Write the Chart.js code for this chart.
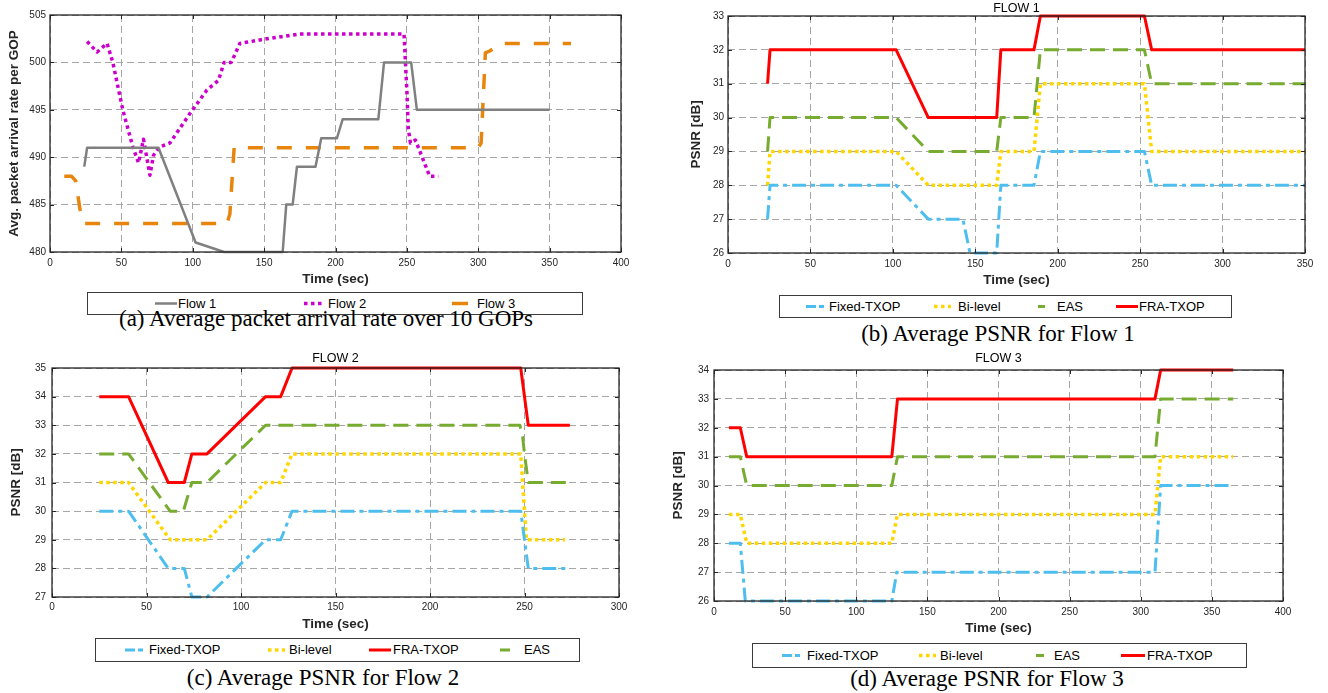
<!DOCTYPE html>
<html lang="en">
<head>
<meta charset="UTF-8">
<title>Packet arrival rate and PSNR per flow</title>
<script src="https://cdn.jsdelivr.net/npm/chart.js"></script>
<style>
  body { margin: 0; background: #fff; }
  #page { position: relative; width: 1328px; height: 693px; overflow: hidden; font-family: "Liberation Sans", Arial, sans-serif; }
  canvas.panel { position: absolute; }
  .legend { position: absolute; border: 1px solid #3c3c3c; background: #fff; box-sizing: border-box; font-size: 13px; color: #000; }
  .legend span { position: absolute; top: 0; white-space: nowrap; }
  .legend svg { position: absolute; top: 0; }
  .caption { position: absolute; width: 600px; text-align: center; font-family: "Liberation Serif", "Times New Roman", serif; font-size: 23px; line-height: 1; color: #000; white-space: nowrap; }
</style>
</head>
<body>
<div id="page">
  <canvas id="chartA" class="panel" width="645" height="292" style="left:0;top:0"></canvas>
  <canvas id="chartB" class="panel" width="658" height="292" style="left:670px;top:0"></canvas>
  <canvas id="chartC" class="panel" width="640" height="288" style="left:0;top:348px"></canvas>
  <canvas id="chartD" class="panel" width="663" height="292" style="left:665px;top:348px"></canvas>

  <div id="legA" class="legend" style="left:87px;top:292px;width:496px;height:23px"></div>
  <div id="legB" class="legend" style="left:779px;top:295px;width:453px;height:23px"></div>
  <div id="legC" class="legend" style="left:95px;top:638px;width:485px;height:24px"></div>
  <div id="legD" class="legend" style="left:752px;top:643px;width:495px;height:25px"></div>

  <div class="caption" style="left:26px;top:307.4px">(a) Average packet arrival rate over 10 GOPs</div>
  <div class="caption" style="left:698px;top:322.4px">(b) Average PSNR for Flow 1</div>
  <div class="caption" style="left:23px;top:665.7px">(c) Average PSNR for Flow 2</div>
  <div class="caption" style="left:687px;top:667.4px">(d) Average PSNR for Flow 3</div>
</div>
<script>
// (a) packet arrival rate
const aFlow1Time = [24, 26, 76, 102, 122, 163, 165.5, 170, 173, 186, 190, 201, 205, 230, 234, 253, 257, 350];
const aFlow1Rate = [489, 491, 491, 481, 480, 480, 485, 485, 489, 489, 492, 492, 494, 494, 500, 500, 495, 495];
const aFlow2Time = [26, 33, 40, 44, 51, 58, 62, 65.5, 70, 72.5, 77, 84, 98, 110, 118, 122, 127, 133, 152, 175, 248, 250, 251, 252.5, 256, 266, 272];
const aFlow2Rate = [502.2, 501.1, 502, 500, 495, 491.1, 489.4, 491.9, 488.1, 490.2, 491.1, 491.5, 494.6, 497.1, 498.1, 500, 500, 502, 502.5, 503, 503, 497, 493, 491.5, 491.8, 488, 488];
const aFlow3Time = [10, 15, 18, 21, 24, 124, 126, 129, 300, 302, 305, 308, 312, 317, 365];
const aFlow3Rate = [488, 488, 487.5, 484.5, 483, 483, 484, 491, 491, 491.5, 501, 501.2, 501.6, 502, 502];

// (b) PSNR, flow 1
const bTime = [24, 25.5, 102, 121.5, 163, 165.5, 185.6, 189.5, 252.6, 257, 350];
const bFra = [31, 32, 32, 30, 30, 32, 32, 33, 33, 32, 32];
const bEas = [29, 30, 30, 29, 29, 30, 30, 32, 32, 31, 31];
const bBi = [28, 29, 29, 28, 28, 29, 29, 31, 31, 29, 29];
const bFixedTime = [24, 25.5, 102, 121.5, 142.5, 146.8, 163, 165.5, 185.6, 189.5, 252.6, 257, 350];
const bFixed = [27, 28, 28, 27, 27, 26, 26, 28, 28, 29, 29, 28, 28];

// (c) PSNR, flow 2
const cFraTime = [25, 40.5, 61.5, 70, 74, 82, 113, 121, 127, 248, 252, 274];
const cFra = [34, 34, 31, 31, 32, 32, 34, 34, 35, 35, 33, 33];
const cEasTime = [25, 40.5, 62.5, 69.5, 74, 82, 113, 247.6, 249, 250, 252, 274];
const cEas = [32, 32, 30, 30, 31, 31, 33, 33, 32.6, 32, 31, 31];
const cBiTime = [25, 40.5, 62.5, 82, 113, 121, 127, 248, 251, 271.5];
const cBi = [31, 31, 29, 29, 31, 31, 32, 32, 29, 29];
const cFixedTime = [25, 40.5, 61.5, 70, 74, 82, 113, 121, 127, 248, 252, 274];
const cFixed = [30, 30, 28, 28, 27, 27, 29, 29, 30, 30, 28, 28];

// (d) PSNR, flow 3
const dTime = [10.5, 18.5, 23, 125, 129, 310, 314, 365];
const dFra = [32, 32, 31, 31, 33, 33, 34, 34];
const dEas = [31, 31, 30, 30, 31, 31, 33, 33];
const dBi = [29, 29, 28, 28, 29, 29, 31, 31];
const dFixedTime = [10.5, 18.5, 22, 125, 128.5, 310, 314, 365];
const dFixed = [28, 28, 26, 26, 27, 27, 30, 30];

const colors = {
  flow1: '#808080', flow2: '#cc00cc', flow3: '#e8850c',
  fixed: '#4dbeee', bi: '#ffd700', eas: '#77ac30', fra: '#ff0000'
};
const styles = {
  solid: [], dotted: [3.5, 3.5], dashed: [15, 14],
  dashDot: [14, 5, 4, 5], longDash: [15, 8]
};

Chart.defaults.font.family = '"Liberation Sans", Arial, Helvetica, sans-serif';
Chart.defaults.color = '#262626';

// matlab style box with inward tick marks
const boxPlugin = {
  id: 'matlabBox',
  afterDraw(chart) {
    const { ctx, chartArea: a, scales } = chart;
    ctx.save();
    ctx.strokeStyle = '#262626';
    ctx.lineWidth = 1;
    ctx.beginPath();
    scales.x.ticks.forEach(t => {
      const px = Math.round(scales.x.getPixelForValue(t.value)) + 0.5;
      ctx.moveTo(px, a.bottom); ctx.lineTo(px, a.bottom - 4);
      ctx.moveTo(px, a.top); ctx.lineTo(px, a.top + 4);
    });
    scales.y.ticks.forEach(t => {
      const py = Math.round(scales.y.getPixelForValue(t.value)) + 0.5;
      ctx.moveTo(a.left, py); ctx.lineTo(a.left + 4, py);
      ctx.moveTo(a.right, py); ctx.lineTo(a.right - 4, py);
    });
    ctx.stroke();
    ctx.lineWidth = 1.3;
    ctx.strokeRect(a.left, a.top, a.right - a.left, a.bottom - a.top);
    ctx.restore();
  }
};

function line(label, times, values, color, width, dash) {
  return {
    label,
    data: times.map((t, i) => ({ x: t, y: values[i] })),
    borderColor: color,
    backgroundColor: color,
    borderWidth: width,
    borderDash: dash,
    borderCapStyle: 'butt',
    borderJoinStyle: 'round',
    pointRadius: 0,
    fill: false,
    clip: 5
  };
}

function buildPanel(id, p) {
  return new Chart(document.getElementById(id), {
    type: 'line',
    data: { datasets: p.datasets },
    options: {
      responsive: false,
      animation: false,
      layout: { padding: p.pad },
      elements: { line: { tension: 0 } },
      plugins: {
        legend: { display: false },
        tooltip: { enabled: false },
        title: p.title
          ? { display: true, text: p.title, fullSize: false, color: '#000',
              font: { size: 12.5, weight: 'normal' }, padding: p.titlePad }
          : { display: false }
      },
      scales: {
        x: {
          type: 'linear', min: 0, max: p.xMax,
          ticks: { stepSize: 50, padding: p.xTickPad, font: { size: 10 }, maxRotation: 0 },
          grid: { color: '#a6a6a6', drawTicks: false },
          border: { display: false, dash: [7, 4] },
          title: { display: true, text: 'Time (sec)', color: '#262626',
                   font: { size: 13.5, weight: 'bold' }, padding: { top: 0, bottom: p.xTitlePad } },
          afterFit: s => { s.height = p.xHeight; s.paddingLeft = 0; s.paddingRight = 0; }
        },
        y: {
          type: 'linear', min: p.yMin, max: p.yMax,
          ticks: { stepSize: p.yStep, padding: p.yTickPad, font: { size: 10 } },
          grid: { color: '#a6a6a6', drawTicks: false },
          border: { display: false, dash: [7, 4] },
          title: { display: true, text: p.yTitle, color: '#262626',
                   font: { size: 13.5, weight: 'bold' }, padding: { top: p.yTitlePad, bottom: 0 } },
          afterFit: s => { s.width = p.yWidth; s.paddingTop = 0; s.paddingBottom = 0; }
        }
      }
    },
    plugins: [boxPlugin]
  });
}

buildPanel('chartA', {
  datasets: [
    line('Flow 1', aFlow1Time, aFlow1Rate, colors.flow1, 2.5, styles.solid),
    line('Flow 2', aFlow2Time, aFlow2Rate, colors.flow2, 3.5, styles.dotted),
    line('Flow 3', aFlow3Time, aFlow3Rate, colors.flow3, 3.5, styles.dashed)
  ],
  pad: { left: 0, top: 15, right: 24, bottom: 0 },
  xMax: 400, yMin: 480, yMax: 505, yStep: 5,
  yTitle: 'Avg. packet arrival rate per GOP', yTitlePad: 6.6,
  yWidth: 50, yTickPad: 4, xHeight: 40, xTickPad: 5, xTitlePad: 4.9
});

buildPanel('chartB', {
  datasets: [
    line('Fixed-TXOP', bFixedTime, bFixed, colors.fixed, 3, styles.dashDot),
    line('Bi-level', bTime, bBi, colors.bi, 3.5, styles.dotted),
    line('EAS', bTime, bEas, colors.eas, 3, styles.longDash),
    line('FRA-TXOP', bTime, bFra, colors.fra, 3, styles.solid)
  ],
  title: 'FLOW 1', titlePad: { top: 1, bottom: 0 },
  pad: { left: 0, top: 0, right: 23, bottom: 0 },
  xMax: 350, yMin: 26, yMax: 33, yStep: 1,
  yTitle: 'PSNR [dB]', yTitlePad: 17.9,
  yWidth: 58, yTickPad: 4, xHeight: 39, xTickPad: 5, xTitlePad: 3.9
});

buildPanel('chartC', {
  datasets: [
    line('Fixed-TXOP', cFixedTime, cFixed, colors.fixed, 3, styles.dashDot),
    line('Bi-level', cBiTime, cBi, colors.bi, 3.5, styles.dotted),
    line('FRA-TXOP', cFraTime, cFra, colors.fra, 3, styles.solid),
    line('EAS', cEasTime, cEas, colors.eas, 3, styles.longDash)
  ],
  title: 'FLOW 2', titlePad: { top: 2.8, bottom: 2.2 },
  pad: { left: 0, top: 0, right: 21, bottom: 0 },
  xMax: 300, yMin: 27, yMax: 35, yStep: 1,
  yTitle: 'PSNR [dB]', yTitlePad: 7.9,
  yWidth: 52, yTickPad: 6, xHeight: 39, xTickPad: 4, xTitlePad: 3.9
});

buildPanel('chartD', {
  datasets: [
    line('Fixed-TXOP', dFixedTime, dFixed, colors.fixed, 3, styles.dashDot),
    line('Bi-level', dTime, dBi, colors.bi, 3.5, styles.dotted),
    line('EAS', dTime, dEas, colors.eas, 3, styles.longDash),
    line('FRA-TXOP', dTime, dFra, colors.fra, 3, styles.solid)
  ],
  title: 'FLOW 3', titlePad: { top: 3.5, bottom: 3.5 },
  pad: { left: 0, top: 0, right: 45, bottom: 0 },
  xMax: 400, yMin: 26, yMax: 34, yStep: 1,
  yTitle: 'PSNR [dB]', yTitlePad: 4.9,
  yWidth: 49, yTickPad: 5, xHeight: 39, xTickPad: 5, xTitlePad: 3.6
});

// legends: [label, color, dash, sample x from, sample x to, text x, width]
function buildLegend(id, items, height) {
  const box = document.getElementById(id);
  const mid = (height - 2) / 2;
  items.forEach(([label, color, dash, x0, x1, tx, w]) => {
    const svg = document.createElementNS('http://www.w3.org/2000/svg', 'svg');
    svg.setAttribute('width', x1 - x0 + 2);
    svg.setAttribute('height', height - 2);
    svg.style.left = (x0 - 1) + 'px';
    const l = document.createElementNS('http://www.w3.org/2000/svg', 'line');
    l.setAttribute('x1', 1); l.setAttribute('x2', x1 - x0 + 1);
    l.setAttribute('y1', mid); l.setAttribute('y2', mid);
    l.setAttribute('stroke', color);
    l.setAttribute('stroke-width', w);
    if (dash) l.setAttribute('stroke-dasharray', dash);
    svg.appendChild(l);
    box.appendChild(svg);
    const s = document.createElement('span');
    s.textContent = label;
    s.style.left = tx + 'px';
    s.style.lineHeight = (height - 2) + 'px';
    box.appendChild(s);
  });
}

buildLegend('legA', [
  ['Flow 1', colors.flow1, null, 67, 89, 90, 2.5],
  ['Flow 2', colors.flow2, '3.5 3.5', 216, 235, 240, 3.5],
  ['Flow 3', colors.flow3, null, 364, 380, 389, 3.5]
], 23);
buildLegend('legB', [
  ['Fixed-TXOP', colors.fixed, '10 3 5', 26, 44, 49, 3],
  ['Bi-level', colors.bi, '3.5 3.5', 154, 171, 178, 3.5],
  ['EAS', colors.eas, null, 258, 265, 277, 3],
  ['FRA-TXOP', colors.fra, null, 336, 358, 359, 3]
], 23);
buildLegend('legC', [
  ['Fixed-TXOP', colors.fixed, '10 3 5', 29, 48, 53, 3],
  ['Bi-level', colors.bi, '3.5 3.5', 172, 189, 193, 3.5],
  ['FRA-TXOP', colors.fra, null, 273, 295, 297, 3],
  ['EAS', colors.eas, null, 404, 414, 428, 3]
], 24);
buildLegend('legD', [
  ['Fixed-TXOP', colors.fixed, '10 3 5', 29, 50, 54, 3],
  ['Bi-level', colors.bi, '3.5 3.5', 166, 183, 187, 3.5],
  ['EAS', colors.eas, null, 283, 291, 301, 3],
  ['FRA-TXOP', colors.fra, null, 368, 392, 394, 3]
], 25);
</script>
</body>
</html>
